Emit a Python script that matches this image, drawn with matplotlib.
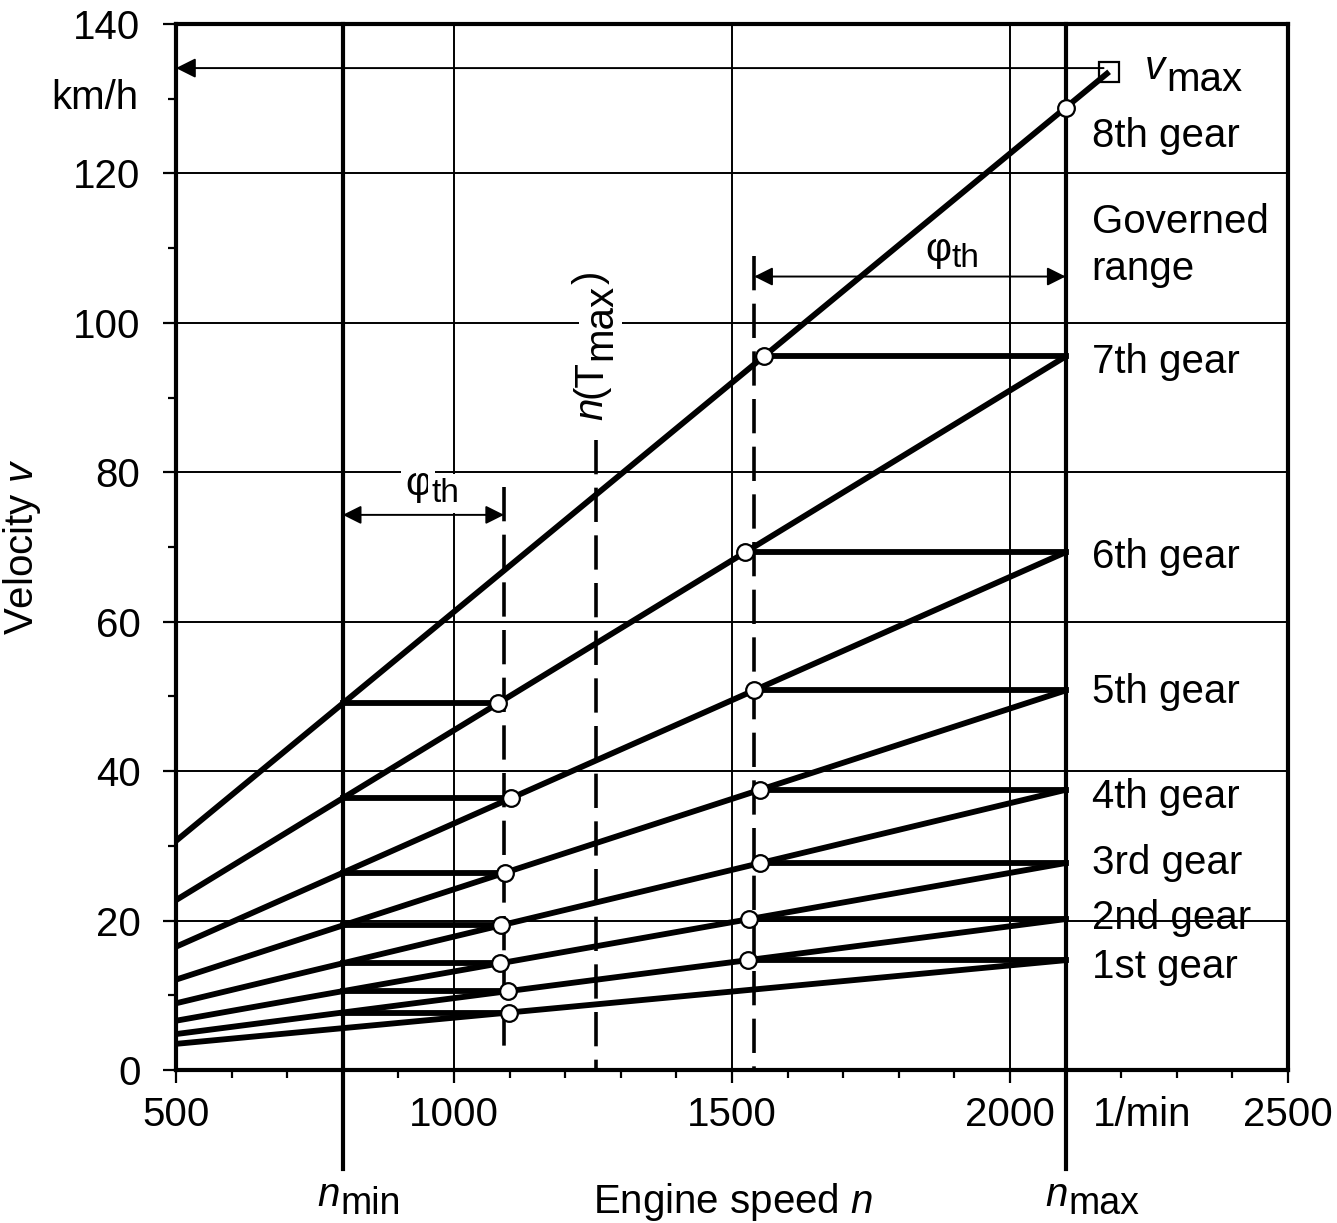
import numpy as np
import matplotlib
matplotlib.use("Agg")
import matplotlib.pyplot as plt
from matplotlib.ticker import MultipleLocator
from matplotlib.transforms import blended_transform_factory

plt.rcParams["font.family"] = ["Liberation Sans", "DejaVu Sans"]
plt.rcParams["mathtext.fontset"] = "custom"
plt.rcParams["mathtext.rm"] = "Liberation Sans"
plt.rcParams["mathtext.it"] = "Liberation Sans:italic"

# --- data ---
gears = ["1st gear", "2nd gear", "3rd gear", "4th gear", "5th gear", "6th gear", "7th gear", "8th gear"]
v_at_nmax = [14.7, 20.2, 27.7, 37.5, 50.8, 69.3, 95.5, 128.8]   # km/h at n_max
label_y = [13.8, 20.3, 27.7, 36.5, 50.6, 68.7, 94.8, 125.0]      # text positions
n_start = 500
n_min, n_max = 800, 2100
n_Tmax = 1255
n_dash_lo, v_dash_lo = 1090, (78.0, 2.0)
n_dash_hi, v_dash_hi = 1540, (109.0, 0.0)
v_Tmax_top = 84.3
v_max = 133.6
phi_lo_y, phi_hi_y = 74.3, 106.2
xticks = [500, 1000, 1500, 2000, 2500]
yticks = [0, 20, 40, 60, 80, 100, 120, 140]
vgrid = [1000, 1500, 2000]

slope = [v / n_max for v in v_at_nmax]
n_vmax = v_max / slope[-1]

FS = 29
LW = 4.2

fig = plt.figure(figsize=(13.37, 12.23), dpi=100)
ax = fig.add_axes([176 / 1337, 1 - 1070 / 1223, 1112 / 1337, 1046 / 1223])
ax.set_xlim(500, 2500)
ax.set_ylim(0, 140)


def sub_text(xy, xycoords, base, sub, fs=FS, sub_fs=FS, drop=7, italic=True, box=None):
    """base glyph followed by a lowered, almost full-size subscript"""
    t1 = ax.annotate(base, xy, xycoords=xycoords, fontsize=fs, ha="left", va="baseline",
                     style=("italic" if italic else "normal"), bbox=box, zorder=6,
                     annotation_clip=False)
    ax.annotate(sub, (1, 0), xycoords=t1, xytext=(0.5, -drop), textcoords="offset points",
                fontsize=sub_fs, ha="left", va="bottom", bbox=box, zorder=6,
                annotation_clip=False)


# grid
for y in yticks[1:-1]:
    ax.axhline(y, color="black", lw=1.4, zorder=1)
for x in vgrid:
    ax.axvline(x, color="black", lw=1.4, zorder=1)

# n_min / n_max lines reaching below the axis
for x in (n_min, n_max):
    ax.plot([x, x], [-13.2, 140], color="black", lw=3.0, clip_on=False, zorder=2)

# dashed guide lines (drawn top-down so each starts with a full dash)
dash = dict(color="black", lw=2.6, dashes=(9.5, 3.7), zorder=2)
ax.plot([n_dash_lo, n_dash_lo], list(v_dash_lo), **dash)
ax.plot([n_Tmax, n_Tmax], [v_Tmax_top, 0], **dash)
ax.plot([n_dash_hi, n_dash_hi], list(v_dash_hi), **dash)

# gear lines
for i, k in enumerate(slope):
    n_end = n_vmax if i == len(slope) - 1 else n_max
    ax.plot([n_start, n_end], [k * n_start, k * n_end], color="black", lw=LW,
            solid_capstyle="butt", zorder=3)

circ_n, circ_v = [], []
# upshift at n_max: horizontal to next gear
for i in range(len(slope) - 1):
    v = v_at_nmax[i]
    n2 = v / slope[i + 1]
    ax.plot([n2, n_max], [v, v], color="black", lw=LW, zorder=3)
    circ_n.append(n2); circ_v.append(v)
# downshift at n_min: horizontal to lower gear
for i in range(1, len(slope)):
    v = slope[i] * n_min
    n2 = v / slope[i - 1]
    ax.plot([n_min, n2], [v, v], color="black", lw=LW, zorder=3)
    circ_n.append(n2); circ_v.append(v)
circ_n.append(n_max); circ_v.append(v_at_nmax[-1])
ax.plot(circ_n, circ_v, "o", ms=12, mfc="white", mec="black", mew=1.6, zorder=5)
ax.plot([n_vmax], [v_max], "s", ms=14, mfc="none", mec="black", mew=1.6, zorder=5)

# v_max arrow
ax.annotate("", xy=(500, v_max + 0.5), xytext=(n_vmax - 10, v_max + 0.5),
            arrowprops=dict(arrowstyle="-|>", lw=1.4, color="black", mutation_scale=30,
                            shrinkA=0, shrinkB=0), zorder=4)

# phi_th arrows
for (x0, x1, y) in [(n_min, n_dash_lo, phi_lo_y), (n_dash_hi, n_max, phi_hi_y)]:
    ax.annotate("", xy=(x0, y), xytext=(x1, y),
                arrowprops=dict(arrowstyle="<|-|>", lw=1.4, color="black", mutation_scale=28,
                                shrinkA=0, shrinkB=0), zorder=4)
wbox = dict(facecolor="white", edgecolor="none", pad=3)
sub_text((912, 76.9), "data", "φ", "th", sub_fs=24, drop=4, italic=False, box=wbox)
sub_text((1847, 108.3), "data", "φ", "th", sub_fs=24, drop=4, italic=False)

# n(T_max), written bottom-to-top
rot = dict(fontsize=FS, rotation=90, rotation_mode="anchor", ha="left", va="baseline",
           bbox=dict(facecolor="white", edgecolor="none", pad=2), zorder=6)
t_a = ax.annotate("n", (1266, 87.0), xycoords="data", style="italic", **rot)
t_b = ax.annotate("(T", (1266, 1), xycoords=("data", t_a), **rot)
t_c = ax.annotate("max", (1266, 1), xycoords=("data", t_b), xytext=(7, 0),
                  textcoords="offset points", **rot)
ax.annotate(")", (1266, 1), xycoords=("data", t_c), **rot)

# right-hand labels
for g, y in zip(gears, label_y):
    ax.text(2147, y, g, fontsize=FS, ha="left", va="center", zorder=4)
ax.text(2147, 110.3, "Governed\nrange", fontsize=FS, ha="left", va="center", linespacing=1.3,
        zorder=4)
sub_text((2243, 132.6), "data", "v", "max", fs=FS, sub_fs=FS, drop=8.5)

# axes styling
for s in ax.spines.values():
    s.set_linewidth(3.0)
ax.set_xticks(xticks)
ax.set_yticks(yticks)
ax.xaxis.set_minor_locator(MultipleLocator(100))
ax.yaxis.set_minor_locator(MultipleLocator(10))
ax.tick_params(which="major", direction="out", length=9.5, width=1.6, labelsize=FS)
ax.tick_params(which="minor", direction="out", length=5.5, width=1.6)
ax.tick_params(axis="x", pad=9)
ax.tick_params(axis="y", pad=16)

trans = blended_transform_factory(ax.transData, ax.transAxes)
ax.annotate("1/min", xy=(2237, 0), xycoords=trans, xytext=(0, -18.5), textcoords="offset points",
            fontsize=FS, ha="center", va="top")
# n_min / n_max under the axis: baseline ~98 pt below the axis line
y_nlab = -98.0 / (1046 * 0.72)
sub_text((755, y_nlab), trans, "n", "min", fs=FS, sub_fs=27, drop=6)
sub_text((2063, y_nlab), trans, "n", "max", fs=FS, sub_fs=27, drop=6)
ax.annotate(r"Engine speed $n$", xy=(1502, 0), xycoords=trans, xytext=(0, -80),
            textcoords="offset points", fontsize=FS, ha="center", va="top")
transy = blended_transform_factory(ax.transAxes, ax.transData)
ax.text(-0.034, 130.1, "km/h", transform=transy, fontsize=FS, ha="right", va="center")
ax.set_ylabel(r"Velocity $v$", fontsize=FS, labelpad=22)

fig.savefig("out.png", dpi=100)
